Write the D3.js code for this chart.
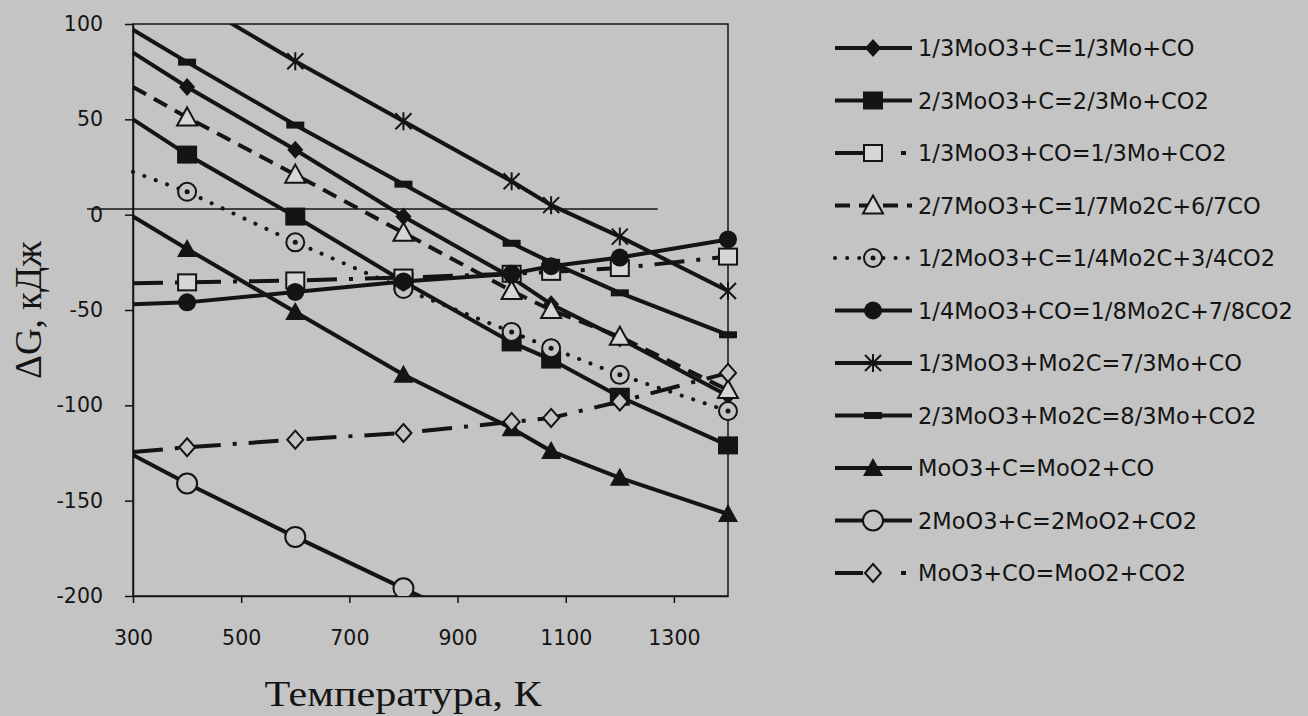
<!DOCTYPE html>
<html>
<head>
<meta charset="utf-8">
<script src="https://cdn.jsdelivr.net/npm/d3@7/dist/d3.min.js"></script>
<style>
  body { margin: 0; background: #c4c4c4; }
  svg { display: block; }
</style>
</head>
<body>
<script>
// temperatures, K
const temps = [300, 400, 600, 800, 1000, 1073, 1200, 1400];

// reaction names (legend)
const names = [
  "1/3MoO3+C=1/3Mo+CO",
  "2/3MoO3+C=2/3Mo+CO2",
  "1/3MoO3+CO=1/3Mo+CO2",
  "2/7MoO3+C=1/7Mo2C+6/7CO",
  "1/2MoO3+C=1/4Mo2C+3/4CO2",
  "1/4MoO3+CO=1/8Mo2C+7/8CO2",
  "1/3MoO3+Mo2C=7/3Mo+CO",
  "2/3MoO3+Mo2C=8/3Mo+CO2",
  "MoO3+C=MoO2+CO",
  "2MoO3+C=2MoO2+CO2",
  "MoO3+CO=MoO2+CO2"
];

// dG values, kJ (one per temperature)
const dG1 = [85, 67, 34, -1, -33, -47, -65, -95];
const dG2 = [50, 31.5, -1, -35, -67, -76, -95.5, -121];
const dG3 = [-36, -35.5, -34.5, -33, -31, -30, -28, -22];
const dG4 = [67, 51, 21, -9.5, -40, -50, -64, -92];
const dG5 = [22.5, 12, -14.5, -39, -61.5, -70, -84, -103];
const dG6 = [-47, -46, -40.5, -35, -31, -27, -22.5, -13];
const dG7 = [130, 114, 80.5, 49, 17.5, 5, -11.5, -40];
const dG8 = [97, 80, 47, 16, -15, -25, -41, -63];
const dG9 = [-1, -18, -51, -84, -112, -124, -138, -157];
const dG10 = [-126, -141, -169, -196, -223, null, null, null];
const dG11 = [-124.5, -122, -118, -114.5, -108.7, -106.6, -98, -83];

const xTicks = [300, 500, 700, 900, 1100, 1300];
const yTicks = [-200, -150, -100, -50, 0, 50, 100];

// hand drawn zero line on the original figure
const zeroLine = { t0: 215, t1: 1270, v: 3 };

const bg = "#c4c4c4", ink = "#141414";

// line style & marker per series
const styles = [
  { dash: null, marker: "diamondFilled" },
  { dash: null, marker: "squareFilled" },
  { dash: "30 12 4 12", lgDash: "28 38 5 40", marker: "squareOpen" },
  { dash: "15 9", marker: "triangleOpen" },
  { dash: "0.1 12", marker: "circleDot", round: true },
  { dash: null, marker: "circleFilled" },
  { dash: null, marker: "star" },
  { dash: null, marker: "dash" },
  { dash: null, marker: "triangleFilled" },
  { dash: null, marker: "circleOpen" },
  { dash: "30 12 4 12", lgDash: "28 38 5 40", marker: "diamondOpen" }
];
const allValues = [dG1, dG2, dG3, dG4, dG5, dG6, dG7, dG8, dG9, dG10, dG11];

const width = 1308, height = 716;
const pLeft = 133, pRight = 728, pTop = 24, pBottom = 596;

const x = d3.scaleLinear().domain([300, 1400]).range([pLeft, pRight]);
const y = d3.scaleLinear().domain([-200, 100]).range([pBottom, pTop]);

const svg = d3.select("body").append("svg")
  .attr("width", width)
  .attr("height", height);

svg.append("rect").attr("width", width).attr("height", height).attr("fill", bg);

svg.append("defs").append("clipPath").attr("id", "plotclip")
  .append("rect")
  .attr("x", pLeft - 20).attr("y", pTop)
  .attr("width", pRight - pLeft + 40).attr("height", pBottom - pTop);

// axes
const plain = d => String(d).replace("\u2212", "-");
const yAxis = svg.append("g")
  .attr("transform", `translate(${pLeft},0)`)
  .call(d3.axisLeft(y).tickValues(yTicks).tickFormat(plain)
    .tickSize(8).tickSizeOuter(0).tickPadding(22));
const xAxis = svg.append("g")
  .attr("transform", `translate(0,${pBottom})`)
  .call(d3.axisBottom(x).tickValues(xTicks).tickFormat(plain)
    .tickSize(7).tickSizeOuter(0).tickPadding(27));

[xAxis, yAxis].forEach(a => {
  a.selectAll("path, line").attr("stroke", ink).attr("stroke-width", 1.5);
  a.selectAll("text")
    .attr("fill", ink)
    .attr("font-family", "DejaVu Sans")
    .attr("font-size", 20.5);
});

// plot frame
svg.append("rect")
  .attr("x", pLeft).attr("y", pTop)
  .attr("width", pRight - pLeft).attr("height", pBottom - pTop)
  .attr("fill", "none").attr("stroke", ink).attr("stroke-width", 1.5);

// zero line
svg.append("line")
  .attr("x1", x(zeroLine.t0)).attr("x2", x(zeroLine.t1))
  .attr("y1", y(zeroLine.v)).attr("y2", y(zeroLine.v))
  .attr("stroke", ink).attr("stroke-width", 1.5);

// marker shapes
function marker(g, type, cx, cy) {
  const m = g.append("g").attr("transform", `translate(${cx},${cy})`);
  switch (type) {
    case "diamondFilled":
      m.append("path").attr("d", "M0,-9L8,0L0,9L-8,0Z").attr("fill", ink); break;
    case "squareFilled":
      m.append("rect").attr("x", -10).attr("y", -9).attr("width", 20).attr("height", 18).attr("fill", ink); break;
    case "squareOpen":
      m.append("rect").attr("x", -9).attr("y", -8).attr("width", 18).attr("height", 16)
        .attr("fill", "#d6d6d6").attr("stroke", ink).attr("stroke-width", 2); break;
    case "triangleOpen":
      m.append("path").attr("d", "M0,-10L10,8L-10,8Z")
        .attr("fill", "#d6d6d6").attr("stroke", ink).attr("stroke-width", 2); break;
    case "circleDot":
      m.append("circle").attr("r", 9).attr("fill", bg).attr("stroke", ink).attr("stroke-width", 2);
      m.append("circle").attr("r", 2.5).attr("fill", ink); break;
    case "circleFilled":
      m.append("circle").attr("r", 9).attr("fill", ink); break;
    case "star":
      m.append("path").attr("d", "M-8,-8L8,8M-8,8L8,-8M0,-9L0,9")
        .attr("stroke", ink).attr("stroke-width", 2).attr("fill", "none"); break;
    case "dash":
      m.append("rect").attr("x", -9).attr("y", -3.5).attr("width", 18).attr("height", 7).attr("fill", ink); break;
    case "triangleFilled":
      m.append("path").attr("d", "M0,-10L10,8L-10,8Z").attr("fill", ink); break;
    case "circleOpen":
      m.append("circle").attr("r", 10).attr("fill", bg).attr("stroke", ink).attr("stroke-width", 2); break;
    case "diamondOpen":
      m.append("path").attr("d", "M0,-9L8,0L0,9L-8,0Z")
        .attr("fill", bg).attr("stroke", ink).attr("stroke-width", 2); break;
  }
}

const line = d3.line()
  .defined(d => d.v !== null)
  .x(d => x(d.t))
  .y(d => y(d.v));

const plot = svg.append("g").attr("clip-path", "url(#plotclip)");

allValues.forEach((vals, i) => {
  const st = styles[i];
  const pts = temps.map((t, j) => ({ t: t, v: vals[j] }));
  plot.append("path")
    .datum(pts)
    .attr("d", line)
    .attr("fill", "none")
    .attr("stroke", ink)
    .attr("stroke-width", 4)
    .attr("stroke-linecap", st.round ? "round" : "butt")
    .attr("stroke-dasharray", st.dash);
  // no marker on the first point (on the axis)
  pts.slice(1).filter(d => d.v !== null).forEach(d => marker(plot, st.marker, x(d.t), y(d.v)));
});

// legend
const lgX0 = 835, lgX1 = 912, lgM = 873, lgText = 918, lgY0 = 48, lgStep = 52.5;
const legend = svg.append("g");
names.forEach((name, i) => {
  const st = styles[i];
  const cy = lgY0 + i * lgStep;
  legend.append("line")
    .attr("x1", lgX0).attr("x2", lgX1).attr("y1", cy).attr("y2", cy)
    .attr("stroke", ink).attr("stroke-width", 4)
    .attr("stroke-linecap", st.round ? "round" : "butt")
    .attr("stroke-dasharray", st.lgDash || st.dash);
  marker(legend, st.marker, lgM, cy);
  legend.append("text")
    .attr("x", lgText).attr("y", cy + 8)
    .attr("font-family", "DejaVu Sans")
    .attr("font-size", 22.5)
    .attr("fill", ink)
    .text(name);
});

// axis titles
svg.append("text")
  .attr("transform", `translate(403,706) scale(1.17,1)`)
  .attr("text-anchor", "middle")
  .attr("font-family", "Liberation Serif")
  .attr("font-size", 36)
  .attr("fill", ink)
  .text("Температура, К");

svg.append("text")
  .attr("transform", "translate(41,310) rotate(-90)")
  .attr("text-anchor", "middle")
  .attr("font-family", "Liberation Serif")
  .attr("font-size", 37)
  .attr("fill", ink)
  .text("ΔG, кДж");
</script>
</body>
</html>
